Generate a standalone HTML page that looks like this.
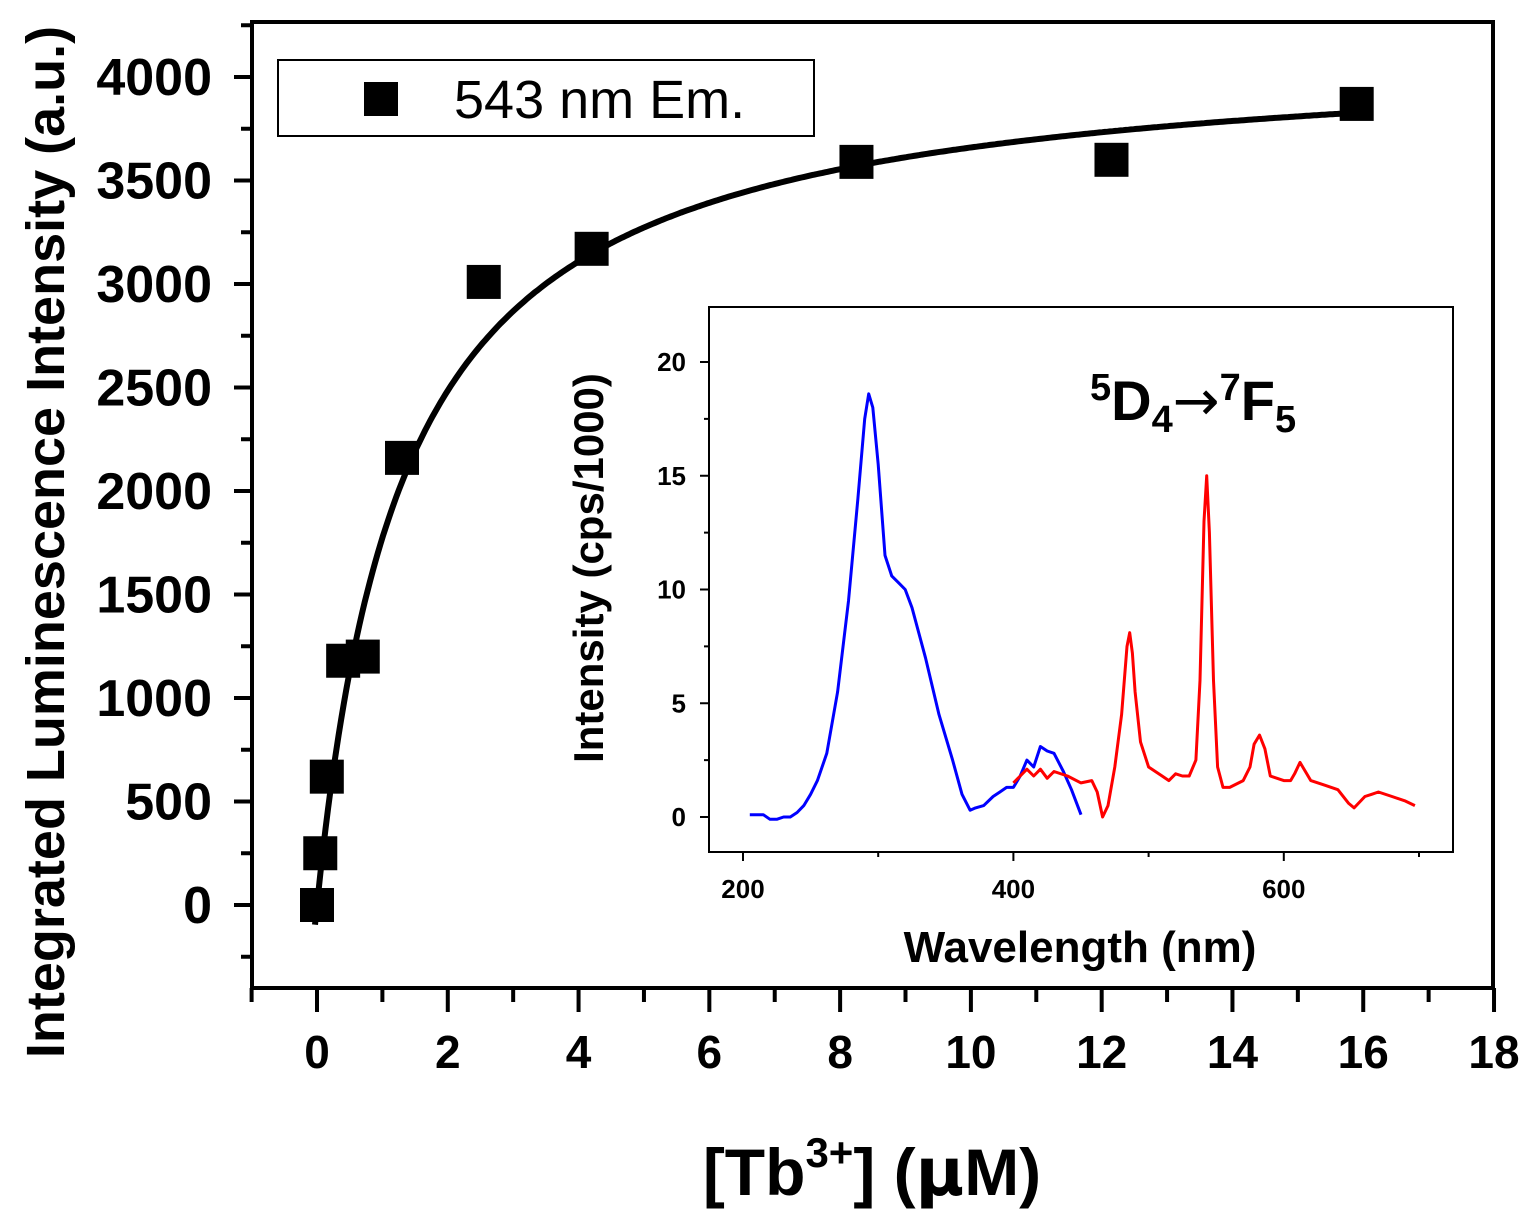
<!DOCTYPE html>
<html><head><meta charset="utf-8"><style>
body{margin:0;background:#fff}
svg{display:block}
text{font-family:"Liberation Sans",Arial,sans-serif}
</style></head><body>
<svg id="chart" width="1537" height="1221" viewBox="0 0 1537 1221" xmlns="http://www.w3.org/2000/svg"></svg>
<script>
// Main chart data
const concX = [0, 0.05, 0.15, 0.4, 0.7, 1.3, 2.55, 4.2, 8.25, 12.15, 15.9];
const intensityY = [0, 250, 620, 1180, 1200, 2160, 3010, 3170, 3590, 3600, 3870];
const fitParams = [4150, 1.34]; // Bmax, Kd
const xTicks = [0, 2, 4, 6, 8, 10, 12, 14, 16, 18];
const yTicks = [0, 500, 1000, 1500, 2000, 2500, 3000, 3500, 4000];
// Inset data
const blueWl = [205,210,215,220,225,230,235,240,245,250,255,262,270,278,285,290,293,296,300,305,310,315,320,325,335,345,355,362,368,372,378,385,390,395,400,405,410,415,420,425,430,437,443,450];
const blueI = [0.1,0.1,0.1,-0.1,-0.1,0.0,0.0,0.2,0.5,1.0,1.6,2.8,5.5,9.5,14,17.5,18.6,18,15.5,11.5,10.6,10.3,10.0,9.2,7.0,4.5,2.5,1.0,0.3,0.4,0.5,0.9,1.1,1.3,1.3,1.8,2.5,2.2,3.1,2.9,2.8,2.0,1.2,0.1];
const redWl = [400,405,410,415,420,425,430,440,450,458,462,466,470,475,480,484,486,488,490,494,500,510,515,520,525,530,535,538,541,543,545,548,551,555,560,570,575,578,582,586,590,600,605,608,612,616,620,630,640,648,652,660,665,670,680,690,697];
const redI = [1.5,1.8,2.1,1.8,2.1,1.7,2.0,1.8,1.5,1.6,1.1,0.0,0.5,2.2,4.5,7.5,8.1,7.2,5.5,3.3,2.2,1.8,1.6,1.9,1.8,1.8,2.5,6,13,15.0,12.5,6,2.2,1.3,1.3,1.6,2.2,3.2,3.6,3.0,1.8,1.6,1.6,1.9,2.4,2.0,1.6,1.4,1.2,0.6,0.4,0.9,1.0,1.1,0.9,0.7,0.5];
const insetXTicks = [200, 400, 600];
const insetYTicks = [0, 5, 10, 15, 20];

const NS = "http://www.w3.org/2000/svg";
const svg = document.getElementById('chart');
function mk(tag, attrs, parent){const e=document.createElementNS(NS,tag);for(const k in attrs)e.setAttribute(k,attrs[k]);(parent||svg).appendChild(e);return e;}

const X0=252,X1=1493,Y0=988,Y1=22;
const xs = v => 317 + v*65.39;
const ys = v => 905 - v*0.207;

const frame=mk('rect',{x:X0,y:Y1,width:X1-X0,height:Y0-Y1,fill:'none',stroke:'#000','stroke-width':4});



for(let v=-1; v<=18; v++){
  const major = v%2===0;
  const t=mk('line',{x1:xs(v),x2:xs(v),y1:Y0,y2:Y0+(major?24:14),stroke:'#000','stroke-width':4});
  
  
}
xTicks.forEach(v=>{
  const t=mk('text',{x:xs(v),y:1068,'font-size':46,'font-weight':'bold','text-anchor':'middle'});
  t.textContent=v;
  
  
});
for(let v=-250; v<=4250; v+=250){
  const major = v%500===0;
  const t=mk('line',{x1:X0,x2:X0-(major?18:11),y1:ys(v),y2:ys(v),stroke:'#000','stroke-width':4});
  
  
}
yTicks.forEach(v=>{
  const t=mk('text',{x:212,y:ys(v)+18,'font-size':52,'font-weight':'bold','text-anchor':'end'});
  t.textContent=v;
  
  
});

const yt=mk('text',{x:0,y:0,'font-size':54,'font-weight':'bold','text-anchor':'middle',transform:'translate(64,542) rotate(-90)'});
yt.textContent='Integrated Luminescence Intensity (a.u.)';


const xt=mk('text',{x:872,y:1195,'font-size':66,'font-weight':'bold','text-anchor':'middle'});
xt.innerHTML='[Tb<tspan font-size="42" dy="-28">3+</tspan><tspan dy="28">] (</tspan><tspan font-family="DejaVu Sans">μ</tspan>M)';



let d='';
for(let i=0;i<=400;i++){
  const v=-0.03+i*(16.0/400);
  const y=fitParams[0]*v/(fitParams[1]+v);
  d+=(i?'L':'M')+xs(v).toFixed(1)+' '+ys(y).toFixed(1);
}
const fit=mk('path',{d:d,fill:'none',stroke:'#000','stroke-width':6});



concX.forEach((v,i)=>{
  const m=mk('rect',{x:xs(v)-17,y:ys(intensityY[i])-17,width:34,height:34,fill:'#000'});
  
  
});

const lg=mk('g',{});


mk('rect',{x:278,y:60,width:536,height:76,fill:'#fff',stroke:'#000','stroke-width':2},lg);
const lm=mk('rect',{x:364,y:82,width:34,height:34,fill:'#000'},lg);


const lt=mk('text',{x:454,y:118,'font-size':54},lg);
lt.textContent='543 nm Em.';



const IX0=709,IX1=1453,IY0=852,IY1=307;
const ixs = v => 743 + (v-200)*1.352;
const iys = v => 817 - v*22.75;
const ib=mk('rect',{x:IX0,y:IY1,width:IX1-IX0,height:IY0-IY1,fill:'#fff',stroke:'#000','stroke-width':2});


for(let v=200; v<=700; v+=100){
  const major=v%200===0;
  const t=mk('line',{x1:ixs(v),x2:ixs(v),y1:IY0,y2:IY0+(major?9:5),stroke:'#000','stroke-width':2});
  
  
}
insetXTicks.forEach(v=>{
  const t=mk('text',{x:ixs(v),y:898,'font-size':26,'font-weight':'bold','text-anchor':'middle'});
  t.textContent=v;
  
  
});
for(let v=0; v<=20; v+=2.5){
  const major=v%5===0;
  const t=mk('line',{x1:IX0,x2:IX0-(major?9:5),y1:iys(v),y2:iys(v),stroke:'#000','stroke-width':2});
  
  
}
insetYTicks.forEach(v=>{
  const t=mk('text',{x:686,y:iys(v)+9,'font-size':26,'font-weight':'bold','text-anchor':'end'});
  t.textContent=v;
  
  
});
const ixt=mk('text',{x:1080,y:962,'font-size':44,'font-weight':'bold','text-anchor':'middle'});
ixt.textContent='Wavelength (nm)';


const iyt=mk('text',{x:0,y:0,'font-size':42,'font-weight':'bold','text-anchor':'middle',transform:'translate(603,568) rotate(-90)'});
iyt.textContent='Intensity (cps/1000)';



function line(xa,ya,color,name){
  const p=xa.map((v,i)=>(i?'L':'M')+ixs(v).toFixed(1)+' '+iys(ya[i]).toFixed(1)).join('');
  const e=mk('path',{d:p,fill:'none',stroke:color,'stroke-width':3,'stroke-linejoin':'round'});
  
  
}
line(blueWl,blueI,'#0000ff','excitation-spectrum');
line(redWl,redI,'#ff0000','emission-spectrum');

const ann=mk('text',{x:1090,y:420,'font-size':56,'font-weight':'bold'});
ann.innerHTML='<tspan font-size="38" dy="-20">5</tspan><tspan dy="20">D</tspan><tspan font-size="38" dy="12">4</tspan><tspan dy="-12" font-family="DejaVu Sans" font-weight="normal">→</tspan><tspan font-size="38" dy="-20">7</tspan><tspan dy="20">F</tspan><tspan font-size="38" dy="12">5</tspan>';


</script>
</body></html>
